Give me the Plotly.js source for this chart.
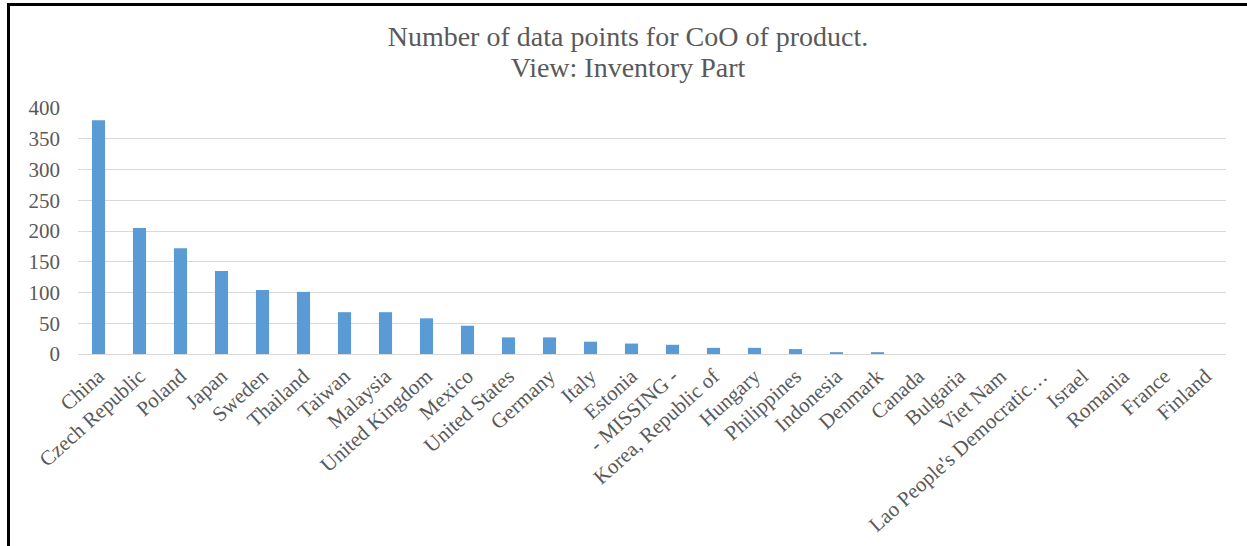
<!DOCTYPE html>
<html>
<head>
<meta charset="utf-8">
<script src="https://cdn.plot.ly/plotly-3.0.1.min.js"></script>
<style>
  html, body { margin: 0; padding: 0; background: #ffffff; }
  #wrap { position: relative; width: 1247px; height: 546px; overflow: hidden; }
  #chart { position: absolute; left: 0; top: 0; width: 1247px; height: 546px; }
  /* frame around the chart area */
  #frame { position: absolute; left: 7px; top: 3px; width: 1260px; height: 600px;
           border-left: 3px solid #000; border-top: 3px solid #000; pointer-events: none; }
</style>
</head>
<body>
<div id="wrap">
  <div id="chart"></div>
  <div id="frame"></div>
</div>
<script>
// Country of origin and number of data points per country
const countries = [
  "China", "Czech Republic", "Poland", "Japan", "Sweden", "Thailand", "Taiwan",
  "Malaysia", "United Kingdom", "Mexico", "United States", "Germany", "Italy",
  "Estonia", "- MISSING -", "Korea, Republic of", "Hungary", "Philippines",
  "Indonesia", "Denmark", "Canada", "Bulgaria", "Viet Nam",
  "Lao People's Democratic\u2026", "Israel", "Romania", "France", "Finland"
];
const dataPoints = [
  380, 205, 172, 135, 104, 101, 68,
  68, 58, 46, 27, 27, 20,
  17, 15, 10, 10, 8,
  3, 3, 0, 0, 0,
  0, 0, 0, 0, 0
];
const yTicks = [0, 50, 100, 150, 200, 250, 300, 350, 400];

const textGrey = "#595959";
const serif = "'Liberation Serif', 'Times New Roman', serif";

const trace = {
  type: "bar",
  x: countries,
  y: dataPoints,
  marker: { color: "#5B9BD5", line: { width: 0 } },
  hoverinfo: "x+y"
};

const layout = {
  width: 1247,
  height: 546,
  margin: { l: 78, r: 21, t: 108, b: 192, pad: 0 },
  paper_bgcolor: "#ffffff",
  plot_bgcolor: "#ffffff",
  showlegend: false,
  bargap: 0.68,
  title: {
    text: "Number of data points for CoO of product.<br>View: Inventory Part",
    font: { family: serif, size: 28, color: textGrey },
    xref: "container", x: 0.5036, xanchor: "center",
    yref: "container", y: 1 - 24 / 546, yanchor: "top",
    pad: { t: 0, b: 0 }
  },
  xaxis: {
    type: "category",
    tickangle: -42,
    tickfont: { family: serif, size: 21, color: textGrey },
    showgrid: false,
    showline: false,
    ticks: "",
    ticklabelstandoff: 5,
    fixedrange: true
  },
  yaxis: {
    range: [0, 400],
    tickvals: yTicks,
    ticktext: yTicks.map(String),
    tickfont: { family: serif, size: 21, color: textGrey },
    showgrid: true,
    gridcolor: "#D9D9D9",
    gridwidth: 1,
    zeroline: true,
    zerolinecolor: "#D9D9D9",
    zerolinewidth: 1,
    showline: false,
    ticks: "",
    ticklabelstandoff: 17,
    fixedrange: true
  }
};

Plotly.newPlot("chart", [trace], layout, { displayModeBar: false, staticPlot: true }).then(function (gd) {
  // nudge the two-line title down into the header band and tighten its line spacing
  const t = gd.querySelector(".g-gtitle text");
  if (t) {
    t.setAttribute("transform", "translate(0,22)");
    const lines = t.querySelectorAll("tspan.line");
    for (let i = 1; i < lines.length; i++) lines[i].setAttribute("dy", "1.1em");
  }
});
</script>
</body>
</html>
